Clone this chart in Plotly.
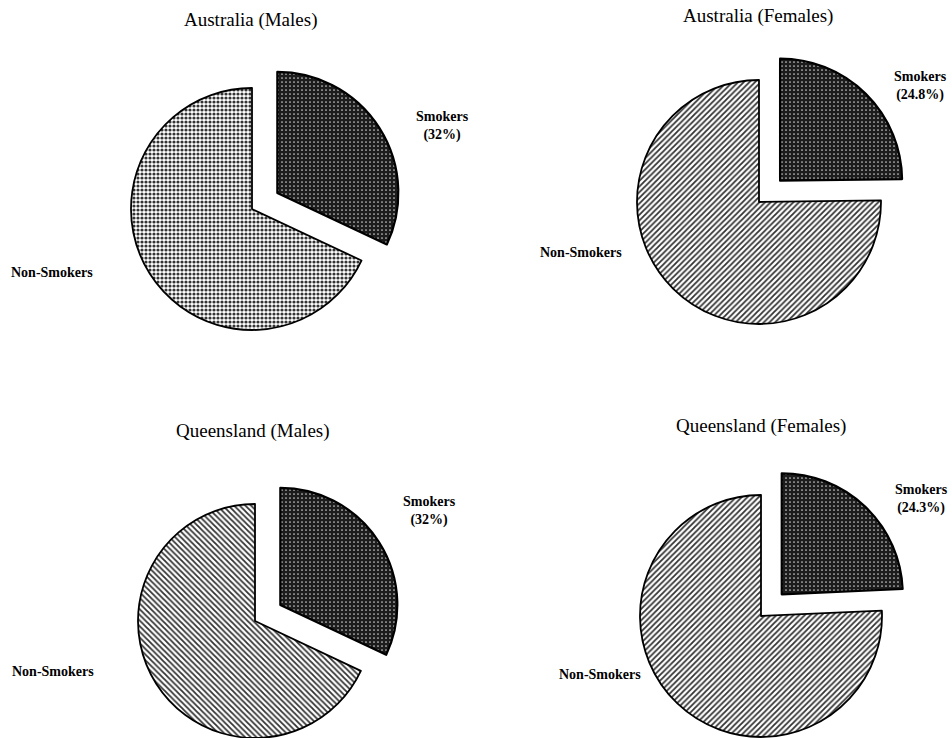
import math
import plotly.graph_objects as go

# --- data -------------------------------------------------------------
titles = ["Australia (Males)", "Australia (Females)",
          "Queensland (Males)", "Queensland (Females)"]
categories = ["Smokers", "Non-Smokers"]
smoker_pct = [32, 24.8, 32, 24.3]
non_smoker_pct = [100 - v for v in smoker_pct]

# --- layout of the four panels (pixel units on a 952 x 738 page) --------
W, H = 952, 738
panels = [
    # centre of pie, radius, title pos, smokers label pos, non-smokers label pos, hatch
    dict(c=(252, 209), r=121, title=(250, 20), smk=(442, 126), non=(52, 272), hatch="."),
    dict(c=(759, 202), r=122, title=(758, 16), smk=(920, 86), non=(581, 252), hatch="/"),
    dict(c=(255, 621), r=117, title=(253, 431), smk=(429, 511), non=(53, 671), hatch="\\"),
    dict(c=(761, 616), r=121, title=(761, 426), smk=(921, 499), non=(600, 674), hatch="/"),
]
PULL_PX = 30  # distance the smokers slice is drawn out from the centre

CLEAR = "rgba(0,0,0,0)"
SERIF = "Liberation Serif, Times New Roman, serif"


def domain(cx, cy, r):
    return dict(x=[(cx - r) / W, (cx + r) / W],
                y=[1 - (cy + r) / H, 1 - (cy - r) / H])


fig = go.Figure()
annotations = []

for i, p in enumerate(panels):
    s, n = smoker_pct[i], non_smoker_pct[i]
    cx, cy = p["c"]
    r = p["r"]
    values = [s, n]
    dots = p["hatch"] == "."

    # non-smokers slice, drawn in place
    fig.add_trace(go.Pie(
        labels=categories, values=values, sort=False, direction="clockwise",
        rotation=0, textinfo="none", hoverinfo="label+value", showlegend=False,
        domain=domain(cx, cy, r),
        marker=dict(
            colors=[CLEAR, "#ffffff"],
            line=dict(color=["rgba(0,0,0,0)", "#000000"], width=[0, 1.8]),
            pattern=dict(shape=["", p["hatch"]],
                         fgcolor=["#000000", "#333333"],
                         bgcolor=[CLEAR, "#ffffff"],
                         size=[4, 4],
                         solidity=[0.3, 0.5 if dots else 0.45]),
        ),
    ))

    # smokers slice, exploded along its bisector
    mid = math.radians(360 * (s / 2) / 100)
    ox, oy = cx + PULL_PX * math.sin(mid), cy - PULL_PX * math.cos(mid)
    fig.add_trace(go.Pie(
        labels=categories, values=values, sort=False, direction="clockwise",
        rotation=0, textinfo="none", hoverinfo="label+value", showlegend=False,
        domain=domain(ox, oy, r),
        marker=dict(
            colors=["#1a1a1a", CLEAR],
            line=dict(color=["#000000", "rgba(0,0,0,0)"], width=[2.2, 0]),
            pattern=dict(shape=[".", ""],
                         fgcolor=["#cfcfcf", "#000000"],
                         bgcolor=["#1c1c1c", CLEAR],
                         size=[4, 4], solidity=[0.14, 0.3]),
        ),
    ))

    tx, ty = p["title"]
    annotations.append(dict(
        text=titles[i], x=tx / W, y=1 - ty / H, xref="paper", yref="paper",
        showarrow=False, xanchor="center", yanchor="middle",
        font=dict(family=SERIF, size=19, color="#000000")))

    sx, sy = p["smk"]
    annotations.append(dict(
        text=f"<b>{categories[0]}<br>({s:g}%)</b>", x=sx / W, y=1 - sy / H,
        xref="paper", yref="paper", showarrow=False, xanchor="center",
        yanchor="middle", align="center",
        font=dict(family=SERIF, size=14, color="#000000")))

    nx, ny = p["non"]
    annotations.append(dict(
        text=f"<b>{categories[1]}</b>", x=nx / W, y=1 - ny / H,
        xref="paper", yref="paper", showarrow=False, xanchor="center",
        yanchor="middle",
        font=dict(family=SERIF, size=14, color="#000000")))

fig.update_layout(
    width=W, height=H,
    margin=dict(l=0, r=0, t=0, b=0),
    paper_bgcolor="#ffffff", plot_bgcolor="#ffffff",
    annotations=annotations,
)

fig.write_html("out.html")
